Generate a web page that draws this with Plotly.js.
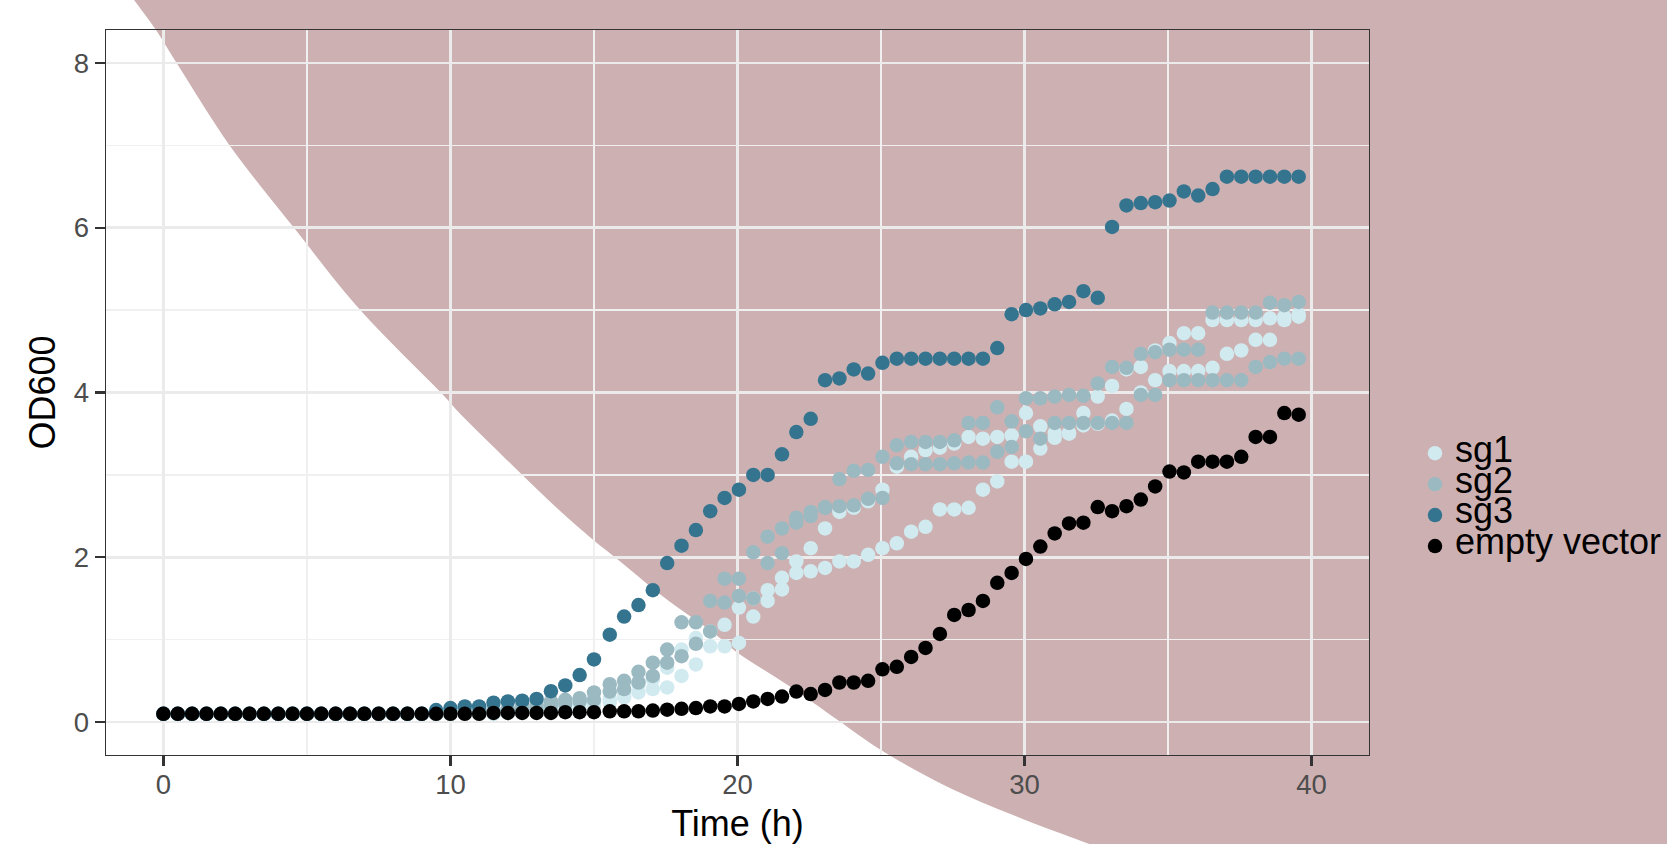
<!DOCTYPE html>
<html><head><meta charset="utf-8">
<script src="https://cdn.plot.ly/plotly-3.0.1.min.js"></script>
<style>html,body{margin:0;padding:0;background:#ffffff;overflow:hidden}</style>
</head><body><div id="chart" style="width:1667px;height:844px"></div>
<script>
// ---- data ----
const time = [0,0.5,1,1.5,2,2.5,3,3.5,4,4.5,5,5.5,6,6.5,7,7.5,8,8.5,9,9.5,10,10.5,11,11.5,12,12.5,13,13.5,14,14.5,15,
  15.55,16.05,16.55,17.05,17.55,18.05,18.55,19.05,19.55,20.05,
  20.55,21.05,21.55,22.05,22.55,23.05,23.55,24.05,24.55,25.05,
  25.55,26.05,26.55,27.05,27.55,28.05,28.55,29.05,29.55,30.05,
  30.55,31.05,31.55,32.05,32.55,33.05,33.55,34.05,34.55,35.05,
  35.55,36.05,36.55,37.05,37.55,38.05,38.55,39.05,39.55];

const emptyVector = [0.10,0.10,0.10,0.10,0.10,0.10,0.10,0.10,0.10,0.10,0.10,0.10,0.10,0.10,0.10,0.10,0.10,0.10,0.10,0.10,0.10,0.10,0.10,
  0.11,0.11,0.11,0.11,0.11,0.12,0.12,0.12,
  0.13,0.13,0.13,0.14,0.15,0.16,0.17,0.19,0.19,0.22,
  0.25,0.28,0.31,0.37,0.34,0.39,0.48,0.48,0.50,0.64,
  0.67,0.79,0.90,1.07,1.30,1.36,1.47,1.69,1.81,1.98,
  2.13,2.29,2.41,2.42,2.61,2.56,2.62,2.70,2.86,3.04,
  3.03,3.16,3.16,3.16,3.22,3.46,3.46,3.75,3.73];

const sg3 = [0.10,0.10,0.10,0.10,0.10,0.10,0.10,0.10,0.10,0.10,0.10,0.10,0.10,0.10,0.10,0.10,0.10,0.10,0.10,
  0.145,0.17,0.19,0.19,0.235,0.25,0.26,0.28,0.375,0.445,0.57,0.76,
  1.06,1.28,1.42,1.60,1.93,2.14,2.33,2.56,2.72,2.82,
  3.00,3.00,3.25,3.52,3.68,4.15,4.17,4.28,4.23,4.36,
  4.41,4.41,4.41,4.41,4.41,4.41,4.41,4.54,4.95,5.00,
  5.02,5.07,5.10,5.23,5.15,6.01,6.27,6.30,6.31,6.33,
  6.44,6.39,6.47,6.62,6.62,6.62,6.62,6.62,6.62];

const sg2_rep1 = [0.10,0.10,0.10,0.10,0.10,0.10,0.10,0.10,0.10,0.10,0.10,0.10,0.10,0.10,0.10,0.10,0.10,0.10,0.10,0.10,
  0.12,0.13,0.14,0.15,0.17,0.19,0.21,0.25,0.27,0.29,0.36,
  0.46,0.50,0.61,0.72,0.88,1.21,1.21,1.47,1.74,1.74,
  2.06,2.25,2.35,2.48,2.55,2.60,2.95,3.05,3.06,3.22,
  3.36,3.40,3.40,3.40,3.42,3.63,3.63,3.82,3.65,3.93,
  3.93,3.95,3.97,3.96,4.11,4.31,4.30,4.47,4.49,4.52,
  4.52,4.52,4.97,4.97,4.97,4.97,5.09,5.06,5.10];

const sg2_rep2 = [0.10,0.10,0.10,0.10,0.10,0.10,0.10,0.10,0.10,0.10,0.10,0.10,0.10,0.10,0.10,0.10,0.10,0.10,0.10,0.10,0.10,
  0.11,0.12,0.13,0.14,0.15,0.17,0.20,0.22,0.25,0.27,
  0.37,0.40,0.48,0.56,0.72,0.80,0.95,1.10,1.45,1.53,
  1.50,1.93,2.05,2.42,2.50,2.61,2.62,2.63,2.71,2.72,
  3.14,3.13,3.13,3.13,3.14,3.15,3.15,3.28,3.34,3.53,
  3.44,3.63,3.63,3.63,3.63,3.63,3.63,3.97,3.97,4.15,
  4.15,4.15,4.15,4.15,4.15,4.31,4.37,4.41,4.41];

const sg1_rep1 = [0.10,0.10,0.10,0.10,0.10,0.10,0.10,0.10,0.10,0.10,0.10,0.10,0.10,0.10,0.10,0.10,0.10,0.10,0.10,0.10,0.10,0.10,0.10,0.10,
  0.12,0.13,0.15,0.17,0.20,0.22,0.25,
  0.28,0.36,0.46,0.52,0.66,0.88,1.02,1.10,1.18,1.39,
  1.50,1.60,1.75,1.95,2.11,2.35,2.55,2.60,2.68,2.82,
  3.10,3.22,3.30,3.33,3.38,3.46,3.44,3.46,3.48,3.75,
  3.59,3.51,3.51,3.75,3.95,4.08,4.28,4.31,4.51,4.60,
  4.72,4.72,4.88,4.88,4.88,4.88,4.90,4.92,4.95];

const sg1_rep2 = [0.10,0.10,0.10,0.10,0.10,0.10,0.10,0.10,0.10,0.10,0.10,0.10,0.10,0.10,0.10,0.10,0.10,0.10,0.10,0.10,0.10,0.10,0.10,0.10,
  0.11,0.11,0.12,0.13,0.15,0.17,0.20,
  0.24,0.30,0.36,0.40,0.42,0.56,0.70,0.92,0.92,0.96,
  1.28,1.47,1.61,1.81,1.83,1.87,1.95,1.95,2.03,2.11,
  2.17,2.31,2.37,2.58,2.58,2.60,2.82,2.92,3.16,3.16,
  3.32,3.45,3.50,3.60,3.62,3.66,3.80,4.00,4.15,4.26,
  4.26,4.26,4.30,4.47,4.51,4.64,4.64,4.88,4.92];

const seriesNames = ['sg1','sg2','sg3','empty vector'];
const xTicks = [0,10,20,30,40];
const yTicks = [0,2,4,6,8];

// ---- layout geometry ----
const W = 1667, H = 844;
const M = {l:106, r:298, t:30, b:88.5};
const PW = W - M.l - M.r, PH = H - M.t - M.b;
const toPaper = (X, Y) => [(X - M.l) / PW, (H - M.b - Y) / PH];

// background decoration: curved edge of the pink area, in page pixels (smoothed with Catmull-Rom)
const bgEdge = [[134,0],[156,30],[176,62],[230,146],[294,228],[360,310],[441,393],[466,420],[548,500],[593,540],
  [618,560],[663,597],[713,633],[740,655],[790,687],[837,720],[885,753],[953,790],[1024,820],[1088,844]];
function smooth(pts, n){
  const out = [];
  for(let i=0;i<pts.length-1;i++){
    const p0 = pts[Math.max(i-1,0)], p1 = pts[i], p2 = pts[i+1], p3 = pts[Math.min(i+2,pts.length-1)];
    for(let k=0;k<n;k++){
      const t = k/n, t2 = t*t, t3 = t2*t;
      const f = (a,b,c,d)=>0.5*((2*b)+(-a+c)*t+(2*a-5*b+4*c-d)*t2+(-a+3*b-3*c+d)*t3);
      out.push([f(p0[0],p1[0],p2[0],p3[0]), f(p0[1],p1[1],p2[1],p3[1])]);
    }
  }
  out.push(pts[pts.length-1]);
  return out;
}
const bgPoly = [[128,-10]].concat(smooth(bgEdge,8), [[1140,866],[W+10,H+16],[W+10,-10]]);
const bgPath = bgPoly.map((p,i)=>{const q=toPaper(p[0],p[1]);return (i?'L':'M')+q[0].toFixed(5)+','+q[1].toFixed(5);}).join(' ')+' Z';

const colors = {sg1:'#d0eaf0', sg2:'#9bb9c1', sg3:'#35748f', ev:'#000000'};
const FONT = 'Liberation Sans, Arial, Helvetica, sans-serif';
const legendLabel = s => '<span style="font-size:36px">' + s + '</span>';

function trace(name, xs, ys, color){
  return {type:'scatter', mode:'markers', name: legendLabel(name), x: xs, y: ys,
    marker:{color: color, size: 14.5, line:{width:0}, opacity:1}, hoverinfo:'x+y'};
}

const data = [
  trace(seriesNames[0], time.concat(time), sg1_rep1.concat(sg1_rep2), colors.sg1),
  trace(seriesNames[1], time.concat(time), sg2_rep1.concat(sg2_rep2), colors.sg2),
  trace(seriesNames[2], time, sg3, colors.sg3),
  trace(seriesNames[3], time, emptyVector, colors.ev)
];

const axisCommon = {
  showline:true, mirror:true, linecolor:'#333333', linewidth:1.4,
  ticks:'outside', ticklen:10, tickwidth:2.2, tickcolor:'#333333',
  showgrid:true, gridcolor:'#ebebeb', gridwidth:2.6, zeroline:false,
  tickfont:{family:FONT, size:27.5, color:'#4d4d4d'},
  automargin:false
};

const layout = {
  width:W, height:H,
  margin:{l:M.l, r:M.r, t:M.t, b:M.b, pad:0, autoexpand:false},
  paper_bgcolor:'#ffffff', plot_bgcolor:'rgba(0,0,0,0)',
  font:{family:FONT, color:'#000000'},
  xaxis: Object.assign({}, axisCommon, {
    range:[-2,42], tickmode:'array', tickvals:xTicks, ticktext:xTicks.map(String),
    ticklabelstandoff:-5,
    minor:{dtick:5, tick0:0, showgrid:true, gridcolor:'#f0f0f0', gridwidth:1.4, ticks:''},
    title:{text:'Time (h)', font:{family:FONT, size:36, color:'#000000'}, standoff:13}
  }),
  yaxis: Object.assign({}, axisCommon, {
    range:[-0.4,8.4], tickmode:'array', tickvals:yTicks, ticktext:yTicks.map(String),
    minor:{dtick:1, tick0:0, showgrid:true, gridcolor:'#f0f0f0', gridwidth:1.4, ticks:''},
    title:{text:'OD600', font:{family:FONT, size:36, color:'#000000'}, standoff:6.5}
  }),
  showlegend:true,
  legend:{x:(1415-M.l)/PW, y:(H-M.b-433)/PH, xanchor:'left', yanchor:'top',
    bgcolor:'rgba(0,0,0,0)', borderwidth:0, font:{family:FONT, size:21.5, color:'#000000'},
    itemsizing:'trace', tracegroupgap:0},
  shapes:[{type:'path', xref:'paper', yref:'paper', path:bgPath, fillcolor:'#cdb1b2', line:{width:0}, layer:'below'}]
};

Plotly.newPlot('chart', data, layout, {staticPlot:true, displayModeBar:false});
</script>
</body></html>
